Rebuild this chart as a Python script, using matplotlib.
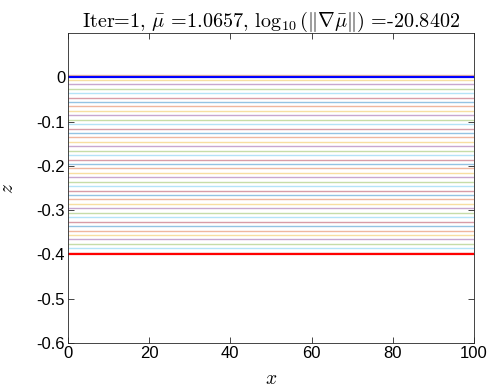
import matplotlib
matplotlib.use('Agg')
import matplotlib.pyplot as plt
import matplotlib as mpl

mpl.rcParams['font.family'] = 'Liberation Sans'
mpl.rcParams['mathtext.fontset'] = 'cm'
mpl.rcParams['axes.unicode_minus'] = False

# MATLAB default colour order
matlab_colors = ['#0072BD', '#D95319', '#EDB120', '#7E2F8E',
                 '#77AC30', '#4DBEEE', '#A2142F']

# Domain
x_range = [0, 100]

# Intermediate level lines (z), top to bottom
z_levels = [0.004, -0.006, -0.016, -0.026, -0.036, -0.046, -0.056, -0.066,
            -0.076, -0.086, -0.096, -0.106, -0.116, -0.126, -0.136, -0.146,
            -0.156, -0.166, -0.176, -0.186, -0.196, -0.206, -0.216, -0.226,
            -0.236, -0.246, -0.256, -0.266, -0.276, -0.286, -0.296, -0.306,
            -0.316, -0.326, -0.336, -0.346, -0.356, -0.366, -0.376, -0.386,
            -0.396]

# Boundary lines
z_top = 0.0
z_bottom = -0.4

xticks = [0, 20, 40, 60, 80, 100]
yticks = [0, -0.1, -0.2, -0.3, -0.4, -0.5, -0.6]
ytick_labels = ['0', '-0.1', '-0.2', '-0.3', '-0.4', '-0.5', '-0.6']

fig = plt.figure(figsize=(4.92, 3.9), dpi=100)
ax = fig.add_axes([0.1382, 0.1205, 0.825, 0.795])

for k, z in enumerate(z_levels):
    c = matlab_colors[(k + 1) % len(matlab_colors)]
    ax.plot(x_range, [z, z], color=c, linewidth=1.0, alpha=0.42, solid_capstyle='butt')

ax.plot(x_range, [z_top, z_top], color='#0000FF', linewidth=1.6, solid_capstyle='butt')
ax.plot(x_range, [z_bottom, z_bottom], color='#FF0000', linewidth=1.6, solid_capstyle='butt')

ax.set_xlim(0, 100)
ax.set_ylim(-0.6, 0.1)
ax.set_xticks(xticks)
ax.set_yticks(yticks)
ax.set_yticklabels(ytick_labels)

for s in ax.spines.values():
    s.set_color('#262626')
    s.set_linewidth(0.6)
ax.tick_params(direction='in', top=True, right=True, length=4, width=0.6,
               color='#262626', labelsize=12, labelcolor='#000000', pad=2)

ax.set_xlabel(r'$x$', fontsize=14, labelpad=7)
ax.set_ylabel(r'$z$', fontsize=14, labelpad=14)
ax.set_title(r'Iter=1, $\bar{\mu}$ =1.0657, $\log_{10}(\|\nabla\bar{\mu}\|)$ =-20.8402',
             fontfamily='cmr10', fontsize=14.5, pad=4)

plt.savefig('out.png', dpi=100)
plt.close()
